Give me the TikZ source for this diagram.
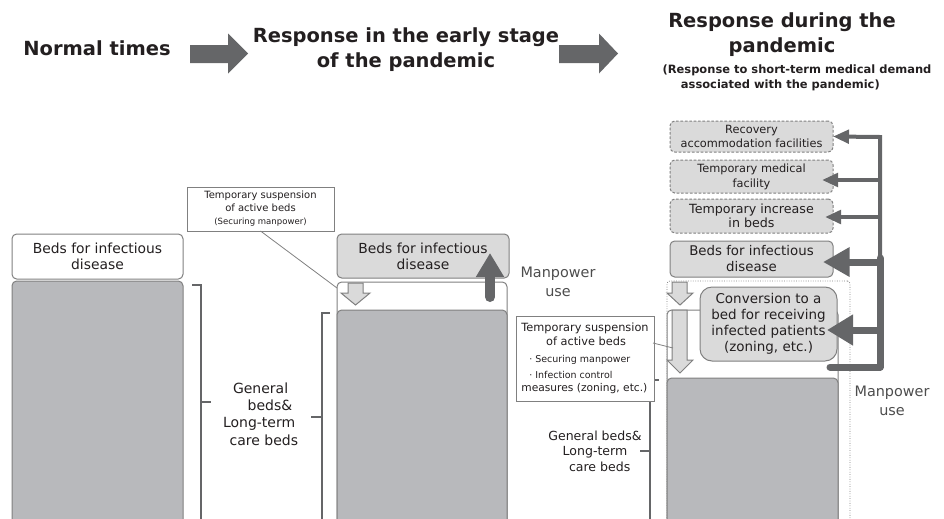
\documentclass[tikz,border=0pt]{standalone}
\usepackage{fontspec}
\setmainfont{DejaVu Sans}
\usetikzlibrary{arrows.meta}
\definecolor{bordc}{HTML}{808080}
\definecolor{lightg}{HTML}{DADADA}
\definecolor{bigc}{HTML}{B8B9BC}
\definecolor{darkc}{HTML}{656668}
\definecolor{txtc}{HTML}{231F20}
\definecolor{mantxt}{HTML}{4D4D4D}
\newcommand\pxl[1]{#1*0.75pt}
\newcommand\fs[2]{\fontsize{#1}{#2}\selectfont}
\begin{document}
\begin{tikzpicture}[x=0.75pt,y=-0.75pt,
  every node/.style={inner sep=0pt, outer sep=0pt, text=txtc},
  box/.style={draw=bordc, line width=0.75pt, rounded corners=3.5pt, align=center},
  wbox/.style={box, fill=white},
  gbox/.style={box, fill=lightg},
  dbox/.style={gbox, dash pattern=on 2pt off 1.3pt},
  bigbox/.style={box, fill=bigc},
  callout/.style={draw=bordc, line width=0.75pt, fill=white},
  brace/.style={draw=darkc, line width=1.5pt},
  leader/.style={draw=bordc, line width=0.6pt},
  blockar/.style={fill=lightg, draw=bordc, line width=0.75pt, line join=miter},
  titlear/.style={fill=darkc},
  thinar/.style={draw=darkc, line width=3pt, -{Triangle[length=12pt,width=10pt]}},
  thickar/.style={draw=darkc, line width=5.25pt, -{Triangle[length=20pt,width=21pt]}},
  title/.style={font=\fs{14.6}{18.75}\bfseries, align=center},
  mantext/.style={font=\fs{10.8}{14.25}, text=mantxt, align=center}]
\useasboundingbox (0,0) rectangle (944,518);
\clip (0,0) rectangle (944,518);

% ---------- titles ----------
\node[title] (T1) at (97,48) {Normal times};
\node[title] (T2) at (406,50) {Response in the early stage\\of the pandemic};
\node[title] (T3) at (782,35) {Response during the\\pandemic};
\node[font=\fs{8.6}{11.25}\bfseries, align=center] (T4) at (797,77.5)
  {(Response to short-term medical demand\\associated with the pandemic)\hspace*{25pt}};
\fill[titlear] (190,45) -- (228,45) -- (228,33.5) -- (248,53.5) -- (228,73.5) -- (228,63) -- (190,63) -- cycle;
\fill[titlear] (559,45) -- (599,45) -- (599,33.5) -- (618,53.5) -- (599,73.5) -- (599,63) -- (559,63) -- cycle;

% ---------- left column ----------
\node[wbox, minimum width=\pxl{171}, minimum height=\pxl{45}, font=\fs{10.4}{12}] (LB) at (97.5,256.5) {Beds for infectious\\disease};
\node[bigbox, minimum width=\pxl{171}, minimum height=\pxl{259}] (LG) at (97.5,410.5) {};
\draw[brace] (192,285) -- (201,285) -- (201,545);
\draw[brace] (201,402) -- (211,402);
\node[anchor=west, align=left, font=\fs{10.5}{13}] (LT) at (223,414)
  {\hspace*{7.5pt}General\\\hspace*{18.5pt}beds\&\\Long-term\\\hspace*{5pt}care beds};

% ---------- middle column ----------
\node[callout, minimum width=\pxl{147}, minimum height=\pxl{44}, align=center, font=\fs{7.5}{9.75}] (MC) at (260.5,209)
  {Temporary suspension\\of active beds\\{\fs{6.4}{9.75}(Securing manpower)}};
\node[gbox, minimum width=\pxl{172}, minimum height=\pxl{44}, font=\fs{10.4}{12}] (MB) at (423,256) {Beds for infectious\\disease};
\node[wbox, minimum width=\pxl{170}, minimum height=\pxl{263}] (MW) at (422,413.5) {};
\node[bigbox, minimum width=\pxl{170}, minimum height=\pxl{235}] (MG) at (422,427.5) {};
\draw[blockar] (348,283) -- (363,283) -- (363,293) -- (370,293) -- (355.5,305) -- (341,293) -- (348,293) -- cycle;
\coordinate (mpS) at (490,297);
\coordinate (mpT) at (490,253);
\draw[darkc, line width=7.5pt, line cap=round, -{Triangle[length=18pt,width=20pt]}] (mpS) -- (mpT);
\coordinate (mcL) at (337,288);
\draw[leader] (MC.south) -- (mcL);
\draw[brace] (330,313) -- (322,313) -- (322,545);
\draw[brace] (322,417) -- (311,417);
\node[mantext] (MM) at (558,281.5) {Manpower\\use};

% ---------- right column ----------
\node[dbox, minimum width=\pxl{163}, minimum height=\pxl{31}, font=\fs{8.5}{10.5}] (R1) at (751.5,136.5) {Recovery\\accommodation facilities};
\node[dbox, minimum width=\pxl{163}, minimum height=\pxl{33}, font=\fs{8.5}{11.25}] (R2) at (751.5,176.5) {Temporary medical\\facility};
\node[dbox, minimum width=\pxl{163}, minimum height=\pxl{34}, font=\fs{9.5}{10.5}] (R3) at (751.5,216) {Temporary increase\\in beds};
\node[gbox, minimum width=\pxl{163}, minimum height=\pxl{36}, font=\fs{10}{12}] (R4) at (751.5,259) {Beds for infectious\\disease};
\node[draw=bordc, line width=0.6pt, dash pattern=on 0.6pt off 1.2pt, rounded corners=2pt, minimum width=\pxl{183}, minimum height=\pxl{270}] (RD) at (758.5,416) {};
\draw[blockar] (672,282) -- (687,282) -- (687,293) -- (693,293) -- (680,305) -- (667,293) -- (672,293) -- cycle;
\node[wbox, minimum width=\pxl{171}, minimum height=\pxl{235}] (RW) at (752.5,427.5) {};
\draw[blockar] (672,310) -- (687,310) -- (687,360) -- (693,360) -- (680,373) -- (667,360) -- (672,360) -- cycle;
\node[gbox, rounded corners=9pt, minimum width=\pxl{137}, minimum height=\pxl{74}, font=\fs{10.1}{12}] (RC) at (768.5,324)
  {Conversion to a\\bed for receiving\\infected patients\\(zoning, etc.)};
\node[bigbox, minimum width=\pxl{171}, minimum height=\pxl{167}] (RG) at (752.5,461.5) {};
\draw[brace] (659,380) -- (650,380) -- (650,545);
\draw[brace] (650,451) -- (640,451);
\node[callout, minimum width=\pxl{138}, minimum height=\pxl{85}, align=left, font=\fs{8.5}{10.5}] (RCall) at (585,358.5)
  {Temporary suspension\\\hspace*{18.5pt}of active beds\\[2pt]
   {\fs{7.1}{10.5}\hspace*{6pt}· Securing manpower}\\[1.5pt]
   {\fs{7.1}{10.5}\hspace*{6pt}· Infection control}\\[-0.8pt]
   {\fs{8}{10.5}measures (zoning, etc.)}};
\coordinate (rl1) at (653,343);
\coordinate (rl2) at (673,348);
\draw[leader] (rl1) -- (rl2);
\node[align=center, font=\fs{9.4}{11.6}] (RT) at (595,451) {General beds\&\\Long-term\\\hspace*{7pt}care beds};
\node[mantext] (RM) at (892,400.5) {Manpower\\use};

% trunk and arrows
\coordinate (t1) at (880,137);
\coordinate (t2) at (880,180);
\coordinate (t3) at (880,217);
\coordinate (t4) at (880,262);
\coordinate (t5) at (880,330);
\coordinate (tb) at (880,367);
\coordinate (te) at (830,367);
\coordinate (a2) at (822,180);
\coordinate (a3) at (825,217);
\coordinate (a4) at (823,262);
\coordinate (a5) at (827,330);
\draw[thinar] (t4) -- (t1) -- (R1.east);
\draw[thinar] (t2) -- (a2);
\draw[thinar] (t3) -- (a3);
\draw[darkc, line width=5.25pt, line cap=round, line join=round] (880,258) -- (tb) -- (te);
\draw[thickar] (t4) -- (a4);
\draw[draw=darkc, line width=5.25pt, -{Triangle[length=19.5pt,width=22pt]}] (t5) -- (a5);
\end{tikzpicture}
\end{document}
